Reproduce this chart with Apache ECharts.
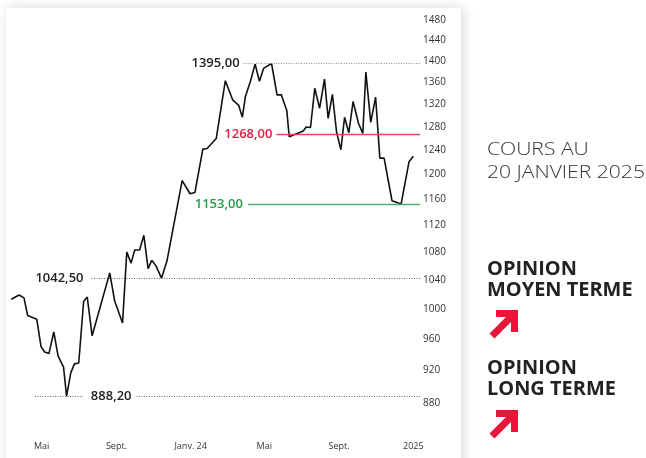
<!DOCTYPE html>
<html><head><meta charset="utf-8">
<script src="https://cdn.jsdelivr.net/npm/echarts@6/dist/echarts.min.js"></script>
<style>html,body{margin:0;padding:0;background:#fff;}#c{width:646px;height:458px;}</style>
</head><body><div id="c"></div>
<script>
// ---- data ----
const dates = ['2023-03-12','2023-03-25','2023-04-02','2023-04-08','2023-04-23','2023-04-30','2023-05-06','2023-05-13','2023-05-21','2023-05-28',
'2023-06-06','2023-06-11','2023-06-18','2023-06-24','2023-07-01','2023-07-09','2023-07-15','2023-07-23','2023-08-21','2023-08-29',
'2023-09-11','2023-09-18','2023-09-25','2023-10-01','2023-10-09','2023-10-16','2023-10-23','2023-10-29','2023-11-05','2023-11-14',
'2023-11-23','2023-12-18','2023-12-31','2024-01-08','2024-01-21','2024-01-28','2024-02-12','2024-02-27','2024-03-10','2024-03-20',
'2024-03-26','2024-03-31','2024-04-08','2024-04-16','2024-04-23','2024-04-30','2024-05-07','2024-05-13','2024-05-22','2024-05-29',
'2024-06-07','2024-06-11','2024-07-04','2024-07-09','2024-07-16','2024-07-23','2024-07-31','2024-08-08','2024-08-14','2024-08-21',
'2024-08-28','2024-09-04','2024-09-10','2024-09-17','2024-09-24','2024-10-03','2024-10-10','2024-10-15','2024-10-23','2024-10-31',
'2024-11-07','2024-11-14','2024-11-27','2024-12-12','2024-12-25','2025-01-01'];
const prices = [1013,1019,1015,991,986,950,943,941,969,938,
924,888.2,917,928,929,1010,1016,964,1050,1011,
981,1080,1064,1083,1083,1105,1056,1068,1060,1042.5,
1067,1190,1169,1171,1242,1243,1260,1363,1328,1318,
1297,1334,1361,1394,1362,1386,1391,1395,1337,1337,
1309,1263,1273,1280,1279,1349,1313,1366,1295,1338,
1270,1241,1297,1270,1325,1286,1269,1379,1288,1333,
1227,1227,1158,1153,1221,1230];
const yTicks = [880,920,960,1000,1040,1080,1120,1160,1200,1240,1280,1320,1360,1400,1440,1480];
const xTickDates = ['2023-05-01','2023-09-01','2024-01-01','2024-05-01','2024-09-01','2025-01-01'];
const xTickLabels = ['Mai','Sept.','Janv. 24','Mai','Sept.','2025'];
const levelValues = [1395, 1268, 1153, 1042.5, 888.2];
const levelStarts = ['2024-03-28','2024-05-21','2024-04-04','2023-07-22','2023-10-04'];
const lowLeftPiece = ['2023-04-20','2023-07-08'];
const xRange = ['2023-03-10','2025-01-12'];
const yRange = [846, 1480];
const sideTitle = ['COURS AU','20 JANVIER 2025'];
const opinion1 = ['OPINION','MOYEN TERME'];
const opinion2 = ['OPINION','LONG TERME'];

// ---- helpers ----
function toTs(s){const p=s.split('-').map(Number);return Date.UTC(p[0],p[1]-1,p[2]);}
function fr(v){return v.toFixed(2).replace('.',',');}
const FONT = "'Open Sans', sans-serif";
const xMax = toTs(xRange[1]);
const tickTs = xTickDates.map(toTs);

const styles = [
  {line:{color:'#8a8a8a',type:[1,1.5],width:1}, label:'#222', dist:4},
  {line:{color:'#e8455f',type:'solid',width:1.4}, label:'#e31b3f', dist:4},
  {line:{color:'#4cae6b',type:'solid',width:1.4}, label:'#1f9d4a', dist:5},
  {line:{color:'#666',type:[1,1.5],width:1}, label:'#222', dist:8},
  {line:{color:'#666',type:[1,1.5],width:1}, label:'#222', dist:5}
];
const mlData = levelValues.map((v,i)=>[
  {coord:[toTs(levelStarts[i]), Math.log(v)], lineStyle:styles[i].line,
   label:{show:true, position:'start', formatter: fr(v), color:styles[i].label, fontSize:13, fontWeight:600, fontFamily:FONT, distance:styles[i].dist}},
  {coord:[xMax, Math.log(v)]}
]);
mlData.push([
  {coord:[toTs(lowLeftPiece[0]), Math.log(levelValues[4])], lineStyle:styles[4].line, label:{show:false}},
  {coord:[toTs(lowLeftPiece[1]), Math.log(levelValues[4])]}
]);

const arrowPts = [[29,0],[29,22],[22,22],[22,12],[5.5,28.5],[0.5,23.5],[17,7],[7,7],[7,0]];
function txt(t,x,y,size,weight,color,sx){
  return {type:'text', x:x, y:y, scaleX:sx, style:{text:t, fill:color, fontSize:size, fontWeight:weight, fontFamily:FONT, textVerticalAlign:'middle', textAlign:'left'}};
}

const chart = echarts.init(document.getElementById('c'), null, {renderer:'canvas'});
chart.setOption({
  animation:false,
  backgroundColor:'#ffffff',
  grid:{left:10, right:226, top:20, bottom:26, containLabel:false},
  xAxis:{type:'value', min:toTs(xRange[0]), max:xMax, scale:true,
    axisLine:{show:false}, axisTick:{show:false}, splitLine:{show:false},
    axisLabel:{customValues:tickTs, margin:10, fontSize:9, color:'#333', fontFamily:FONT,
      formatter:function(v){let best=0,bd=Infinity;tickTs.forEach((t,i)=>{const d=Math.abs(t-v);if(d<bd){bd=d;best=i;}});return xTickLabels[best];}}},
  yAxis:{type:'value', position:'right', min:Math.log(yRange[0]), max:Math.log(yRange[1]), scale:true,
    axisLine:{show:false}, axisTick:{show:false}, splitLine:{show:false},
    axisLabel:{customValues:yTicks.map(Math.log), margin:3, fontSize:10, color:'#333', fontFamily:FONT,
      formatter:function(v){return String(Math.round(Math.exp(v)));}}},
  series:[{
    type:'line', data:dates.map((d,i)=>[toTs(d), Math.log(prices[i])]),
    showSymbol:false, lineStyle:{color:'#111', width:1.6}, z:3,
    markLine:{silent:true, symbol:['none','none'], animation:false, data:mlData}
  }],
  graphic:[
    {type:'rect', z:-1, shape:{x:6,y:8,width:455,height:480}, style:{fill:'#fff', shadowBlur:12, shadowColor:'rgba(0,0,0,0.16)', shadowOffsetX:2}},
    txt(sideTitle[0],487,150,19,300,'#333',1.11),
    txt(sideTitle[1],487,173,19,300,'#333',1.11),
    txt(opinion1[0],487,270,19,700,'#222',1.05),
    txt(opinion1[1],487,291,19,700,'#222',1.05),
    {type:'polygon', x:489, y:310, shape:{points:arrowPts}, style:{fill:'#e8173a'}},
    txt(opinion2[0],487,369,19,700,'#222',1.05),
    txt(opinion2[1],487,390,19,700,'#222',1.05),
    {type:'polygon', x:489, y:410, shape:{points:arrowPts}, style:{fill:'#e8173a'}}
  ]
});
</script></body></html>
